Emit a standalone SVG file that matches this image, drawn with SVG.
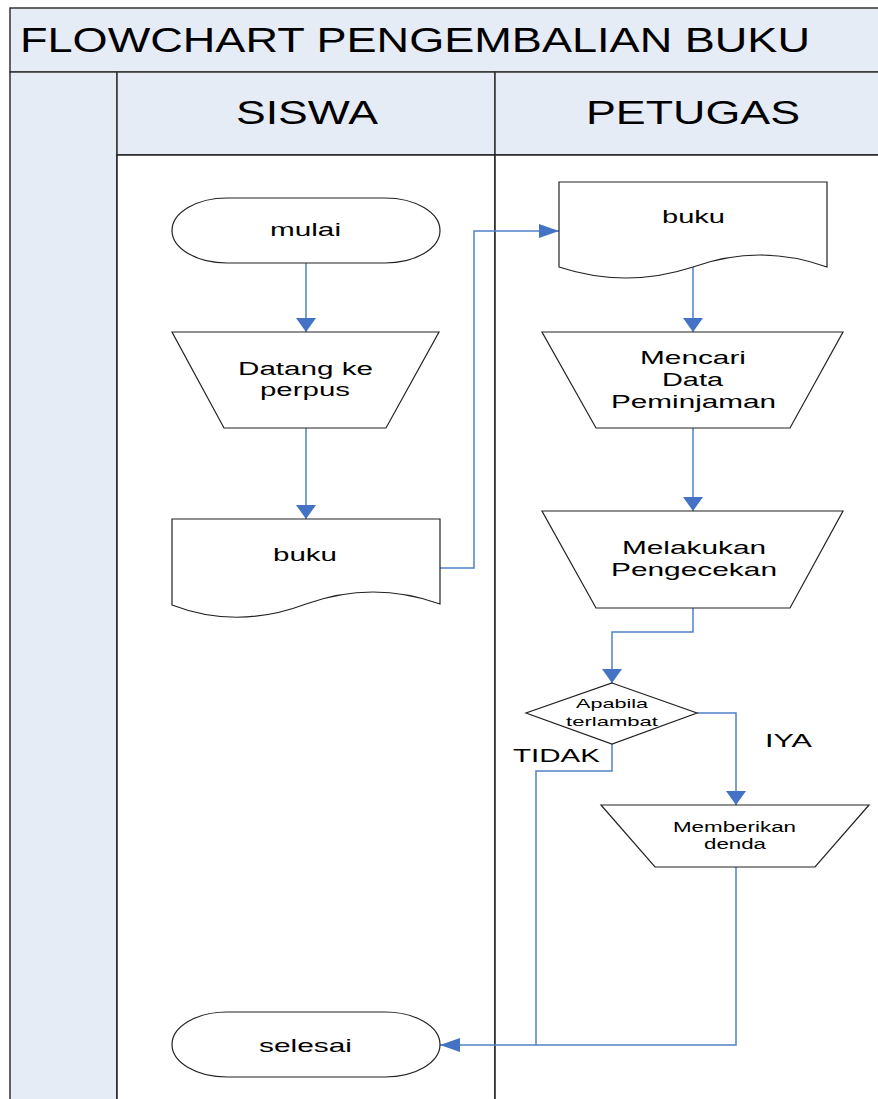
<svg xmlns="http://www.w3.org/2000/svg" width="878" height="1099" viewBox="0 0 878 1099">
<style>
.band{fill:#E6ECF6;stroke:#333;stroke-width:1.5}
.body{fill:#fff;stroke:#222;stroke-width:1.5}
.shape{fill:#fff;stroke:#222;stroke-width:1.2}
.t{font-family:"Liberation Sans",Arial,sans-serif;fill:#000}
.conn{fill:none;stroke:#4F81C7;stroke-width:1.5}
.head{fill:#4472C4}
</style>
<defs>
<marker id="av" markerUnits="userSpaceOnUse" orient="auto" markerWidth="14" markerHeight="20" refX="14" refY="10" viewBox="0 0 14 20"><path class="head" d="M0,0 L14,10 L0,20 z"/></marker>
<marker id="ah" markerUnits="userSpaceOnUse" orient="auto" markerWidth="20" markerHeight="14" refX="20" refY="7" viewBox="0 0 20 14"><path class="head" d="M0,0 L20,7 L0,14 z"/></marker>
</defs>

<g id="pool">
<rect class="band" x="10" y="8" width="880" height="64"/>
<rect class="band" x="10" y="72" width="107" height="1040"/>
<rect class="band" x="117" y="72" width="378" height="83"/>
<rect class="band" x="495" y="72" width="395" height="83"/>
<rect class="body" x="117" y="155" width="378" height="960"/>
<rect class="body" x="495" y="155" width="395" height="960"/>
<text class="t" x="20" y="52" font-size="35" textLength="790" lengthAdjust="spacingAndGlyphs">FLOWCHART PENGEMBALIAN BUKU</text>
<text class="t" x="236" y="124" font-size="33" textLength="142" lengthAdjust="spacingAndGlyphs">SISWA</text>
<text class="t" x="586" y="124" font-size="33" textLength="214" lengthAdjust="spacingAndGlyphs">PETUGAS</text>
</g>

<g id="connectors">
<path class="conn" d="M306,263 L306,332" marker-end="url(#av)"/>
<path class="conn" d="M306,428 L306,519" marker-end="url(#av)"/>
<path class="conn" d="M440,568 L474,568 L474,231 L559,231" marker-end="url(#ah)"/>
<path class="conn" d="M693,267 L693,332" marker-end="url(#av)"/>
<path class="conn" d="M693,428 L693,511" marker-end="url(#av)"/>
<path class="conn" d="M693,608 L693,632 L612,632 L612,683" marker-end="url(#av)"/>
<path class="conn" d="M697,713 L736,713 L736,805" marker-end="url(#av)"/>
<path class="conn" d="M612,744 L612,771 L536,771 L536,1045"/>
<path class="conn" d="M736,867 L736,1045 L440,1045" marker-end="url(#ah)"/>
<text class="t" x="765" y="747" font-size="18" textLength="47" lengthAdjust="spacingAndGlyphs">IYA</text>
<text class="t" x="513" y="762" font-size="18" textLength="87" lengthAdjust="spacingAndGlyphs">TIDAK</text>
</g>

<g id="mulai">
<path class="shape" d="M227,198 L385,198 A55,32.5 0 0 1 385,263 L227,263 A55,32.5 0 0 1 227,198 z"/>
<text class="t" x="270" y="236" font-size="19" textLength="71" lengthAdjust="spacingAndGlyphs">mulai</text>
</g>

<g id="datang">
<path class="shape" d="M172,332 L439,332 L386,428 L224,428 z"/>
<text class="t" x="238" y="375" font-size="18" textLength="135" lengthAdjust="spacingAndGlyphs">Datang ke</text>
<text class="t" x="260" y="396" font-size="18" textLength="90" lengthAdjust="spacingAndGlyphs">perpus</text>
</g>

<g id="buku-siswa">
<path class="shape" d="M172,519 L440,519 L440,604 Q373,580 306,604 Q237,630 172,605 z"/>
<text class="t" x="273" y="561" font-size="19" textLength="64" lengthAdjust="spacingAndGlyphs">buku</text>
</g>

<g id="buku-petugas">
<path class="shape" d="M559,182 L827,182 L827,267 Q760,243 693,267 Q626,289 559,267 z"/>
<text class="t" x="662" y="223" font-size="19" textLength="63" lengthAdjust="spacingAndGlyphs">buku</text>
</g>

<g id="mencari">
<path class="shape" d="M542,332 L843,332 L790,428 L596,428 z"/>
<text class="t" x="640" y="364" font-size="18" textLength="106" lengthAdjust="spacingAndGlyphs">Mencari</text>
<text class="t" x="662" y="386" font-size="18" textLength="61" lengthAdjust="spacingAndGlyphs">Data</text>
<text class="t" x="611" y="408" font-size="18" textLength="165" lengthAdjust="spacingAndGlyphs">Peminjaman</text>
</g>

<g id="melakukan">
<path class="shape" d="M542,511 L843,511 L790,608 L596,608 z"/>
<text class="t" x="622" y="554" font-size="18" textLength="144" lengthAdjust="spacingAndGlyphs">Melakukan</text>
<text class="t" x="611" y="576" font-size="18" textLength="166" lengthAdjust="spacingAndGlyphs">Pengecekan</text>
</g>

<g id="keputusan">
<path class="shape" d="M612,683 L697,713 L612,744 L526,713 z"/>
<text class="t" x="576" y="708" font-size="13" textLength="72" lengthAdjust="spacingAndGlyphs">Apabila</text>
<text class="t" x="566" y="726" font-size="13" textLength="92" lengthAdjust="spacingAndGlyphs">terlambat</text>
</g>

<g id="denda">
<path class="shape" d="M601,805 L869,805 L815,867 L655,867 z"/>
<text class="t" x="673" y="832" font-size="14" textLength="123" lengthAdjust="spacingAndGlyphs">Memberikan</text>
<text class="t" x="704" y="849" font-size="14" textLength="62" lengthAdjust="spacingAndGlyphs">denda</text>
</g>

<g id="selesai">
<path class="shape" d="M227,1012 L385,1012 A55,32.5 0 0 1 385,1077 L227,1077 A55,32.5 0 0 1 227,1012 z"/>
<text class="t" x="259" y="1052" font-size="19" textLength="93" lengthAdjust="spacingAndGlyphs">selesai</text>
</g>
</svg>
